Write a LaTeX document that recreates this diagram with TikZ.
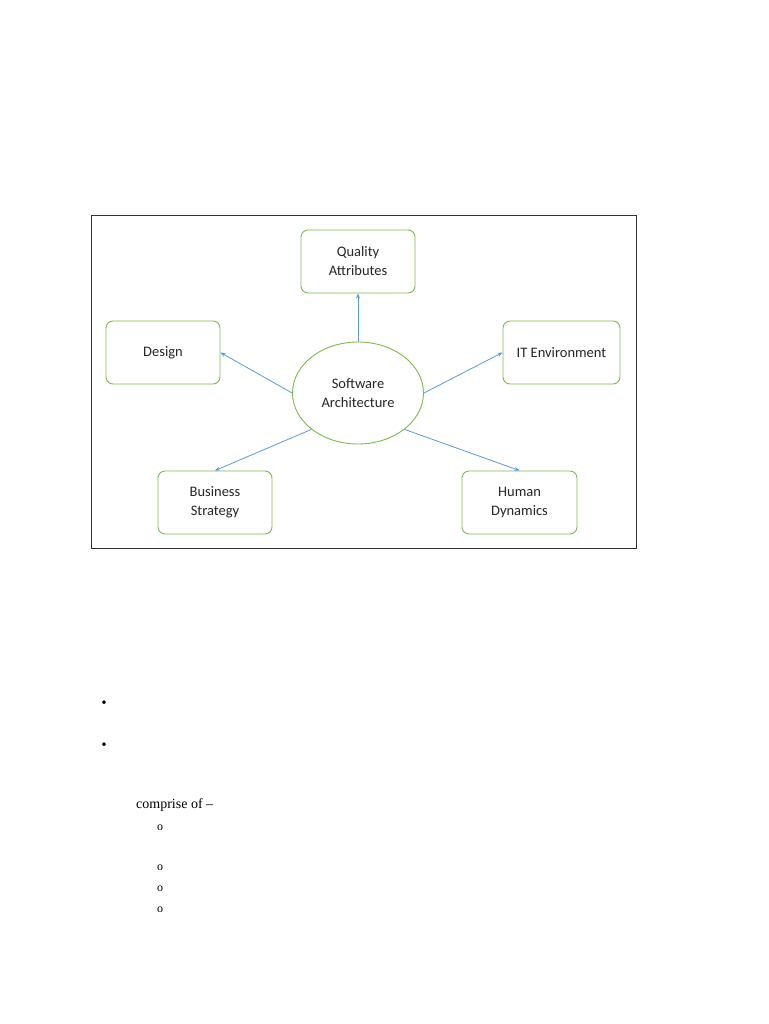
\documentclass[tikz,border=0pt]{standalone}
\usepackage{fontspec}
\setmainfont{Carlito}
\newfontfamily\serifdoc{Liberation Serif}
\usetikzlibrary{shapes.geometric,arrows.meta}
\definecolor{gbox}{RGB}{125,185,80}
\definecolor{barrow}{RGB}{91,155,213}
\begin{document}
\begin{tikzpicture}[x=1pt,y=-1pt,
  box/.style={draw=gbox,line width=0.9pt,rounded corners=7pt,minimum width=114pt,minimum height=63pt,align=center,font=\fontsize{14.5}{19}\selectfont,text=black!85},
  conn/.style={draw=barrow,line width=0.8pt,-{Stealth[length=5pt,width=4pt]}}]
\useasboundingbox (0,0) rectangle (768,1024);
\fill[white] (0,0) rectangle (768,1024);
\node[draw=black!80,line width=0.7pt,minimum width=545pt,minimum height=333pt,inner sep=0pt] (frame) at (363.5,381.5) {};
\node[box] (qa) at (358,261.5) {Quality\\Attributes};
\node[box] (des) at (163,352.5) {Design};
\node[box,minimum width=117pt] (it) at (561.5,352.5) {IT Environment};
\node[box] (bs) at (215,502.5) {Business\\Strategy};
\node[box,minimum width=115pt] (hd) at (519.5,502.5) {Human\\Dynamics};
\node[ellipse,draw=gbox,line width=0.9pt,minimum width=131pt,minimum height=102pt,inner sep=0pt,align=center,font=\fontsize{14.5}{19}\selectfont,text=black!85] (sa) at (358,393) {Software\\Architecture};
\draw[conn] (sa.north) -- (qa.south);
\draw[conn] (sa.west) -- (des.east);
\draw[conn] (sa.east) -- (it.west);
\draw[conn] (sa.-142) -- (bs.north);
\draw[conn] (sa.-38) -- (hd.north);
\node[font=\normalsize] (b1) at (104,703) {\textbullet};
\node[font=\normalsize] (b2) at (104,745) {\textbullet};
\node[anchor=west,font=\serifdoc\fontsize{14}{16}\selectfont,inner sep=0pt] (cp) at (136,805) {comprise of –};
\foreach \y/\n in {828/c1,868/c2,889/c3,910/c4}
  \node[font=\serifdoc\fontsize{12}{14}\selectfont,inner sep=0pt] (\n) at (160,\y) {o};
\end{tikzpicture}
\end{document}
